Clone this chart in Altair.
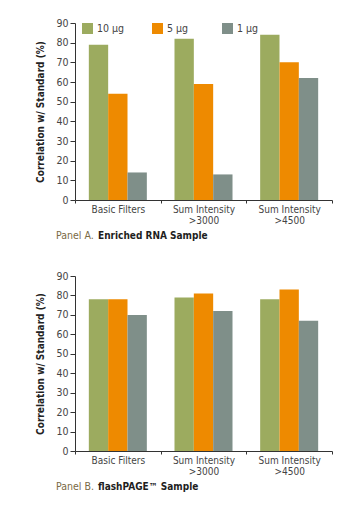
import altair as alt
import pandas as pd

categories = ["Basic Filters", "Sum Intensity|>3000", "Sum Intensity|>4500"]
amounts = ["10 µg", "5 µg", "1 µg"]
colors = ["#9cab5f", "#ee8a00", "#7f8f89"]

panel_a_10 = [79, 82, 84]
panel_a_5 = [54, 59, 70]
panel_a_1 = [14, 13, 62]

panel_b_10 = [78, 79, 78]
panel_b_5 = [78, 81, 83]
panel_b_1 = [70, 72, 67]

panel_labels = ["Panel A.", "Panel B."]
panel_titles = ["Enriched RNA Sample", "flashPAGE™ Sample"]
y_ticks = [0, 10, 20, 30, 40, 50, 60, 70, 80, 90]

FONT = "DejaVu Sans Condensed, DejaVu Sans, sans-serif"
W, H = 257, 177


def make_df(s10, s5, s1):
    rows = []
    for series, amt in zip([s10, s5, s1], amounts):
        for cat, v in zip(categories, series):
            rows.append({"category": cat, "amount": amt, "value": v})
    return pd.DataFrame(rows)


def panel(df, label, title, h):
    bars = alt.Chart(df).mark_bar().encode(
        x=alt.X("category:N", sort=categories,
                scale=alt.Scale(paddingInner=0, paddingOuter=0),
                axis=alt.Axis(title=None, labelAngle=0, tickBand="extent",
                              labelExpr="split(datum.label, '|')",
                              labelFont=FONT, labelFontSize=10, labelColor="#444",
                              labelPadding=1, tickSize=3, domainColor="#333",
                              tickColor="#333", labelLineHeight=11.5,
                              labelBaseline="top")),
        xOffset=alt.XOffset("amount:N", sort=amounts,
                            scale=alt.Scale(paddingInner=0, paddingOuter=0.715)),
        y=alt.Y("value:Q", scale=alt.Scale(domain=[0, 90], nice=False),
                axis=alt.Axis(values=y_ticks, title="Correlation w/ Standard (%)",
                              titleFont=FONT, titleFontSize=10, titleFontWeight="bold",
                              titleColor="#222", titlePadding=10, grid=False,
                              labelFont=FONT, labelFontSize=10.5, labelColor="#444",
                              labelPadding=2, tickSize=5, domainColor="#333",
                              tickColor="#333")),
        color=alt.Color("amount:N", sort=amounts,
                        scale=alt.Scale(domain=amounts, range=colors),
                        legend=alt.Legend(orient="none", legendX=7, legendY=0,
                                          direction="horizontal", title=None,
                                          symbolType="square", symbolSize=121,
                                          symbolStrokeWidth=0, symbolOpacity=1,
                                          gridAlign="all", columnPadding=27,
                                          labelFont=FONT, labelFontSize=10.5,
                                          labelColor="#444", labelOffset=4,
                                          padding=0)),
    )
    cap_df = pd.DataFrame({"label": [label], "title": [title]})
    cap1 = alt.Chart(cap_df).mark_text(
        align="left", baseline="middle", font=FONT, fontSize=10.5, color="#7a6a45"
    ).encode(x=alt.value(-19), y=alt.value(h + 36), text="label:N")
    cap2 = alt.Chart(cap_df).mark_text(
        align="left", baseline="middle", font=FONT, fontSize=10, fontWeight="bold",
        color="#1e1e1e"
    ).encode(x=alt.value(23), y=alt.value(h + 36), text="title:N")
    return alt.layer(bars, cap1, cap2).properties(width=W, height=h)


chart_a = panel(make_df(panel_a_10, panel_a_5, panel_a_1), panel_labels[0], panel_titles[0], H)
chart_b = panel(make_df(panel_b_10, panel_b_5, panel_b_1), panel_labels[1], panel_titles[1], 175)

chart = alt.vconcat(chart_a, chart_b, spacing=28).properties(
    padding={"left": 27, "top": 9, "right": 5, "bottom": 5}
).configure_view(stroke="transparent").resolve_scale(color="shared")

chart.save("out.html", embed_options={"renderer": "svg", "actions": False})
